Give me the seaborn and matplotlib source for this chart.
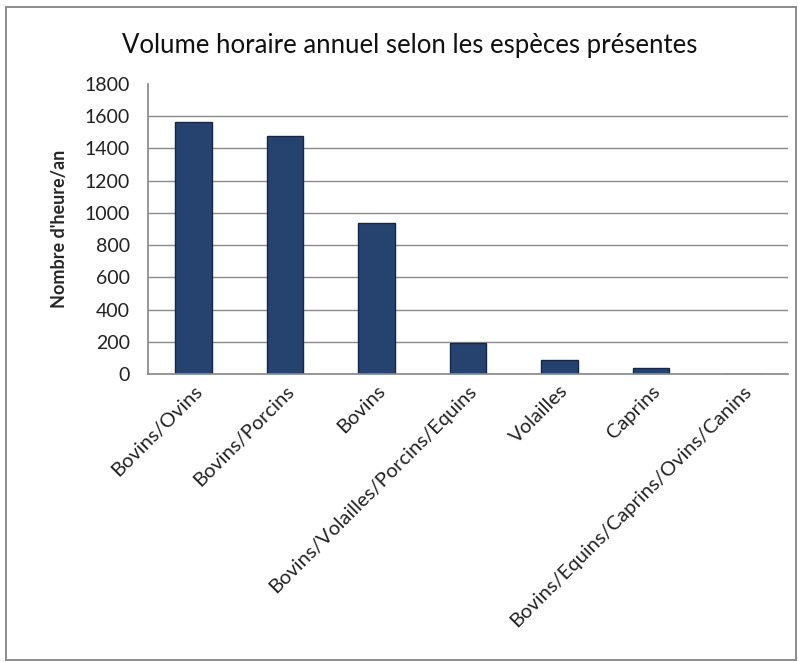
import matplotlib
matplotlib.use("Agg")
import matplotlib.pyplot as plt
from matplotlib.patches import Rectangle
import seaborn as sns
import pandas as pd

categories = [
    "Bovins/Ovins",
    "Bovins/Porcins",
    "Bovins",
    "Bovins/Volailles/Porcins/Equins",
    "Volailles",
    "Caprins",
    "Bovins/Equins/Caprins/Ovins/Canins",
]
hours = [1565, 1475, 935, 190, 87, 35, 3]
y_ticks = [0, 200, 400, 600, 800, 1000, 1200, 1400, 1600, 1800]

df = pd.DataFrame({"espece": categories, "heures": hours})

sns.set_theme(style="white")
plt.rcParams["font.family"] = ["Lato", "DejaVu Sans"]

fig = plt.figure(figsize=(7.98, 6.62), dpi=100)
ax = fig.add_axes([148 / 798, 1 - 374 / 662, 640 / 798, 290 / 662])

sns.barplot(data=df, x="espece", y="heures", ax=ax, width=0.4,
            color="#26436f", edgecolor="#14264a", linewidth=1.0,
            saturation=1)

ax.set_ylim(0, 1800)
ax.set_xlim(-0.5, len(categories) - 0.5)
ax.set_yticks(y_ticks)
ax.set_yticklabels([str(t) for t in y_ticks], fontsize=14, color="#222222")

# horizontal gridlines up to 1600
for t in y_ticks[1:-1]:
    ax.axhline(t, color="#8a8a8a", linewidth=1.0, zorder=0)

for side in ["top", "right"]:
    ax.spines[side].set_visible(False)
ax.spines["left"].set_color("#8a8a8a")
ax.spines["bottom"].set_color("#8a8a8a")

ax.set_xlabel("")
ax.set_ylabel("Nombre d'heure/an", fontsize=13, fontweight="bold", labelpad=12)
ax.tick_params(axis="y", length=0, pad=13)
ax.tick_params(axis="x", length=0, pad=6)
ax.set_xticks(range(len(categories)))
ax.set_xticklabels(categories, rotation=45, ha="right", rotation_mode="anchor",
                   fontsize=14.5, color="#222222")

fig.text(410 / 798, 1 - 45 / 662, "Volume horaire annuel selon les espèces présentes",
         ha="center", va="center", fontsize=18.5, color="#111111")

fig.patches.append(Rectangle((6 / 798, 1 - 660 / 662), 790 / 798, 653 / 662,
                             transform=fig.transFigure, fill=False,
                             edgecolor="#8c8c8c", linewidth=1.4))

fig.savefig("out.png", dpi=100)
